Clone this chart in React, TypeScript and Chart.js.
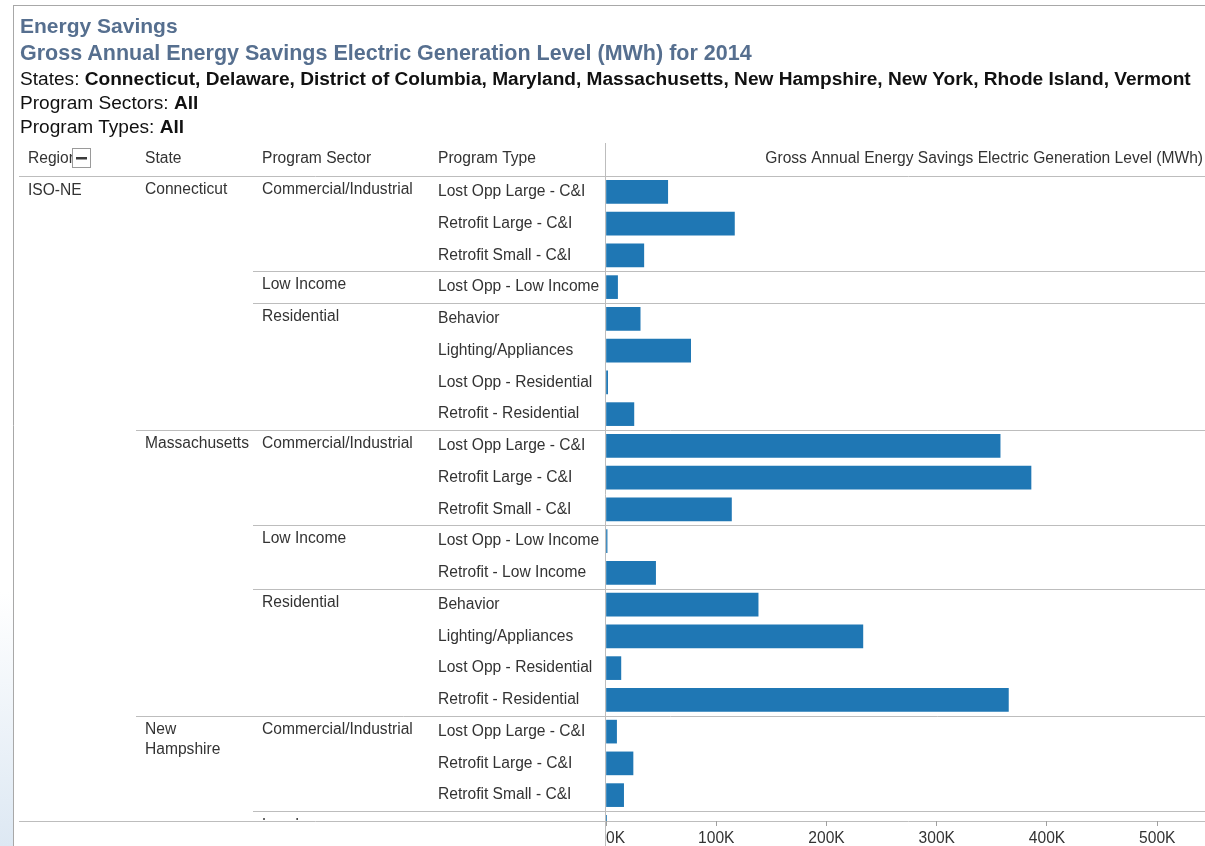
import React, { useEffect, useRef } from "react";
import { Chart, registerables } from "chart.js";

Chart.register(...registerables);

const FONT = '"Liberation Sans", Arial, Helvetica, sans-serif';
const TITLE_COLOR = "#566f8f";
const TEXT_COLOR = "#333333";
const LINE_COLOR = "#bdbdbd";
const BAR_COLOR = "#1f77b4";
const CELL_FONT_SIZE = 15.6;

// ---- Data (one entry per table row) ----
const regions = [
  "ISO-NE", "ISO-NE", "ISO-NE", "ISO-NE", "ISO-NE", "ISO-NE", "ISO-NE",
  "ISO-NE", "ISO-NE", "ISO-NE", "ISO-NE", "ISO-NE", "ISO-NE", "ISO-NE",
  "ISO-NE", "ISO-NE", "ISO-NE", "ISO-NE", "ISO-NE", "ISO-NE", "ISO-NE",
];

const states = [
  "Connecticut", "Connecticut", "Connecticut", "Connecticut",
  "Connecticut", "Connecticut", "Connecticut", "Connecticut",
  "Massachusetts", "Massachusetts", "Massachusetts", "Massachusetts",
  "Massachusetts", "Massachusetts", "Massachusetts", "Massachusetts",
  "Massachusetts",
  "New Hampshire", "New Hampshire", "New Hampshire", "New Hampshire",
];

const programSectors = [
  "Commercial/Industrial", "Commercial/Industrial", "Commercial/Industrial",
  "Low Income",
  "Residential", "Residential", "Residential", "Residential",
  "Commercial/Industrial", "Commercial/Industrial", "Commercial/Industrial",
  "Low Income", "Low Income",
  "Residential", "Residential", "Residential", "Residential",
  "Commercial/Industrial", "Commercial/Industrial", "Commercial/Industrial",
  "Low Income",
];

const programTypes = [
  "Lost Opp Large - C&I", "Retrofit Large - C&I", "Retrofit Small - C&I",
  "Lost Opp - Low Income",
  "Behavior", "Lighting/Appliances", "Lost Opp - Residential", "Retrofit - Residential",
  "Lost Opp Large - C&I", "Retrofit Large - C&I", "Retrofit Small - C&I",
  "Lost Opp - Low Income", "Retrofit - Low Income",
  "Behavior", "Lighting/Appliances", "Lost Opp - Residential", "Retrofit - Residential",
  "Lost Opp Large - C&I", "Retrofit Large - C&I", "Retrofit Small - C&I",
  "Lost Opp - Low Income",
];

// Gross annual energy savings (MWh)
const savingsMWh = [
  56000, 116500, 34300,
  10500,
  31000, 76800, 1500, 25300,
  357500, 385500, 113800,
  1000, 45000,
  138000, 233000, 13500, 365000,
  9600, 24500, 16000,
  600,
];

const xTickValues = [0, 100000, 200000, 300000, 400000, 500000, 540600];
const xTickLabels = ["0K", "100K", "200K", "300K", "400K", "500K", ""];
const X_MAX = 540600;
const Y_MAX = 19.815; // visible rows (last one partially cut)

const columnHeaders = ["Region", "State", "Program Sector", "Program Type"];
const measureHeader = "Gross Annual Energy Savings Electric Generation Level (MWh)";

const titleLine1 = "Energy Savings";
const titleLine2 = "Gross Annual Energy Savings Electric Generation Level (MWh) for 2014";
const statesLabel = "States: ";
const statesValue =
  "Connecticut, Delaware, District of Columbia, Maryland, Massachusetts, New Hampshire, New York, Rhode Island, Vermont";
const sectorsLabel = "Program Sectors: ";
const sectorsValue = "All";
const typesLabel = "Program Types: ";
const typesValue = "All";

// column x positions
const COL_REGION = 28;
const COL_STATE = 145;
const COL_SECTOR = 262;
const COL_TYPE = 438;

function wrapText(ctx: CanvasRenderingContext2D, text: string, maxW: number): string[] {
  const words = text.split(" ");
  const lines: string[] = [];
  let cur = "";
  for (const w of words) {
    const test = cur ? cur + " " + w : w;
    if (ctx.measureText(test).width > maxW && cur) {
      lines.push(cur);
      cur = w;
    } else {
      cur = test;
    }
  }
  if (cur) lines.push(cur);
  return lines;
}

const tablePlugin = {
  id: "tableDecor",
  beforeDraw(chart: any) {
    const { ctx, chartArea, scales } = chart;
    const y = scales.y;
    const W = chart.width;
    const H = chart.height;
    ctx.save();
    ctx.fillStyle = "#ffffff";
    ctx.fillRect(0, 0, W, H);
    // left outside strip
    const g = ctx.createLinearGradient(0, 0, 0, H);
    g.addColorStop(0, "#ffffff");
    g.addColorStop(0.7, "#ffffff");
    g.addColorStop(1, "#dde8f3");
    ctx.fillStyle = g;
    ctx.fillRect(0, 0, 13, H);
    // frame
    ctx.strokeStyle = "#a8a8a8";
    ctx.lineWidth = 1;
    ctx.beginPath();
    ctx.moveTo(13.5, 5);
    ctx.lineTo(13.5, H);
    ctx.moveTo(13, 5.5);
    ctx.lineTo(W, 5.5);
    ctx.stroke();

    ctx.strokeStyle = LINE_COLOR;
    const hline = (x0: number, x1: number, yy: number) => {
      const py = Math.round(yy) + 0.5;
      ctx.beginPath();
      ctx.moveTo(x0, py);
      ctx.lineTo(x1, py);
      ctx.stroke();
    };
    // header line
    hline(19, W, chartArea.top - 0.5);
    // group separators
    for (let i = 1; i < programTypes.length; i++) {
      const py = y.getPixelForValue(i - 0.5);
      if (py > chartArea.bottom) break;
      if (states[i] !== states[i - 1]) hline(136, W, py);
      else if (programSectors[i] !== programSectors[i - 1]) hline(253, W, py);
    }
    // bottom line
    hline(19, W, chartArea.bottom);
    // vertical divider
    ctx.beginPath();
    const vx = Math.round(chartArea.left) - 0.5;
    ctx.moveTo(vx, 143);
    ctx.lineTo(vx, H);
    ctx.stroke();
    ctx.restore();
  },
  afterDraw(chart: any) {
    const { ctx, chartArea, scales } = chart;
    const y = scales.y;
    const W = chart.width;
    ctx.save();
    ctx.font = `${CELL_FONT_SIZE}px ${FONT}`;
    ctx.fillStyle = TEXT_COLOR;
    ctx.textBaseline = "middle";
    ctx.textAlign = "left";
    const headY = 159;
    // Region header (truncated by the collapse box)
    ctx.save();
    ctx.beginPath();
    ctx.rect(0, 140, 72, 36);
    ctx.clip();
    ctx.fillText(columnHeaders[0], COL_REGION, headY);
    ctx.restore();
    // collapse box
    ctx.fillStyle = "#ffffff";
    ctx.fillRect(72, 148, 19, 20);
    ctx.strokeStyle = "#9a9a9a";
    ctx.lineWidth = 1;
    ctx.strokeRect(72.5, 148.5, 18, 19);
    ctx.fillStyle = "#3a3a3a";
    ctx.fillRect(76, 157, 11, 2.5);
    ctx.fillStyle = TEXT_COLOR;
    ctx.fillText(columnHeaders[1], COL_STATE, headY);
    ctx.fillText(columnHeaders[2], COL_SECTOR, headY);
    ctx.fillText(columnHeaders[3], COL_TYPE, headY);
    ctx.textAlign = "right";
    ctx.fillText(measureHeader, W - 2, headY);
    ctx.textAlign = "left";

    // body cells (the last row is cut off by the axis)
    ctx.save();
    ctx.beginPath();
    ctx.rect(0, chartArea.top, W, chartArea.bottom - chartArea.top - 1);
    ctx.clip();
    for (let i = 0; i < programTypes.length; i++) {
      const py = y.getPixelForValue(i);
      const partial = i > y.max;
      const dy = partial ? 1 : 0;
      const newRegion = i === 0 || regions[i] !== regions[i - 1];
      const newState = newRegion || states[i] !== states[i - 1];
      const newSector = newState || programSectors[i] !== programSectors[i - 1];
      if (newRegion) ctx.fillText(regions[i], COL_REGION, py - 1 + dy);
      if (newState) {
        const lines = wrapText(ctx, states[i], 108);
        lines.forEach((ln, k) => ctx.fillText(ln, COL_STATE, py - 2 + dy + k * 20));
      }
      if (newSector) ctx.fillText(programSectors[i], COL_SECTOR, py - 2 + dy);
      if (partial) ctx.fillText(programTypes[i], COL_TYPE, py + dy);
    }
    ctx.restore();
    ctx.restore();
  },
};

export default function App() {
  const canvasRef = useRef<HTMLCanvasElement | null>(null);

  useEffect(() => {
    const canvas = canvasRef.current;
    if (!canvas) return;
    const chart = new Chart(canvas, {
      type: "bar",
      data: {
        datasets: [
          {
            label: measureHeader,
            data: savingsMWh.map((v, i) => ({ x: v, y: i })),
            backgroundColor: BAR_COLOR,
            borderWidth: 0,
            barThickness: 23,
          } as any,
        ],
      },
      options: {
        indexAxis: "y",
        responsive: false,
        animation: false,
        layout: { padding: { left: COL_TYPE, top: 176, right: 0, bottom: 0 } },
        plugins: {
          legend: { display: false },
          tooltip: { enabled: false },
          title: { display: false },
        },
        scales: {
          x: {
            type: "linear",
            position: "bottom",
            min: 0,
            max: X_MAX,
            offset: false,
            afterBuildTicks: (s: any) => {
              s.ticks = xTickValues.map((v) => ({ value: v }));
            },
            afterFit: (s: any) => {
              s.height = 25;
            },
            ticks: {
              align: "inner",
              autoSkip: false,
              maxRotation: 0,
              minRotation: 0,
              padding: 3,
              color: TEXT_COLOR,
              font: { family: FONT, size: CELL_FONT_SIZE },
              callback: (_v: any, idx: number) => xTickLabels[idx],
            },
            grid: {
              drawOnChartArea: false,
              drawTicks: true,
              tickLength: 5,
              tickColor: (c: any) =>
                c.index === xTickValues.length - 1 ? "rgba(0,0,0,0)" : "#a0a0a0",
            },
            border: { display: false },
          },
          y: {
            type: "linear",
            reverse: true,
            min: -0.5,
            max: Y_MAX,
            offset: false,
            afterBuildTicks: (s: any) => {
              s.ticks = programTypes
                .map((_t, i) => ({ value: i }))
                .filter((t) => t.value <= s.max);
            },
            afterFit: (s: any) => {
              s.width = 168;
            },
            ticks: {
              crossAlign: "far",
              autoSkip: false,
              padding: 0,
              color: TEXT_COLOR,
              font: { family: FONT, size: CELL_FONT_SIZE },
              callback: (v: any) => programTypes[v] ?? "",
            },
            grid: { display: false, offset: false },
            border: { display: false },
          },
        },
      } as any,
      plugins: [tablePlugin],
    });
    return () => chart.destroy();
  }, []);

  const lineStyle = (centerY: number, size: number, bold: boolean, color: string): React.CSSProperties => ({
    position: "absolute",
    left: 20,
    top: centerY - 13,
    height: 26,
    lineHeight: "26px",
    fontFamily: FONT,
    fontSize: size,
    fontWeight: bold ? "bold" : "normal",
    color,
    whiteSpace: "nowrap",
  });

  return (
    <div
      style={{
        position: "fixed",
        left: 0,
        top: 0,
        width: 1205,
        height: 846,
        background: "#ffffff",
        overflow: "hidden",
      }}
    >
      <canvas
        ref={canvasRef}
        width={1205}
        height={846}
        style={{ position: "absolute", left: 0, top: 0, width: 1205, height: 846 }}
      />
      <div style={lineStyle(26, 21, true, TITLE_COLOR)}>{titleLine1}</div>
      <div style={lineStyle(53, 21.5, true, TITLE_COLOR)}>{titleLine2}</div>
      <div style={lineStyle(79, 19.1, false, "#111")}>
        {statesLabel}
        <b>{statesValue}</b>
      </div>
      <div style={lineStyle(103, 19.1, false, "#111")}>
        {sectorsLabel}
        <b>{sectorsValue}</b>
      </div>
      <div style={lineStyle(127, 19.1, false, "#111")}>
        {typesLabel}
        <b>{typesValue}</b>
      </div>
    </div>
  );
}
